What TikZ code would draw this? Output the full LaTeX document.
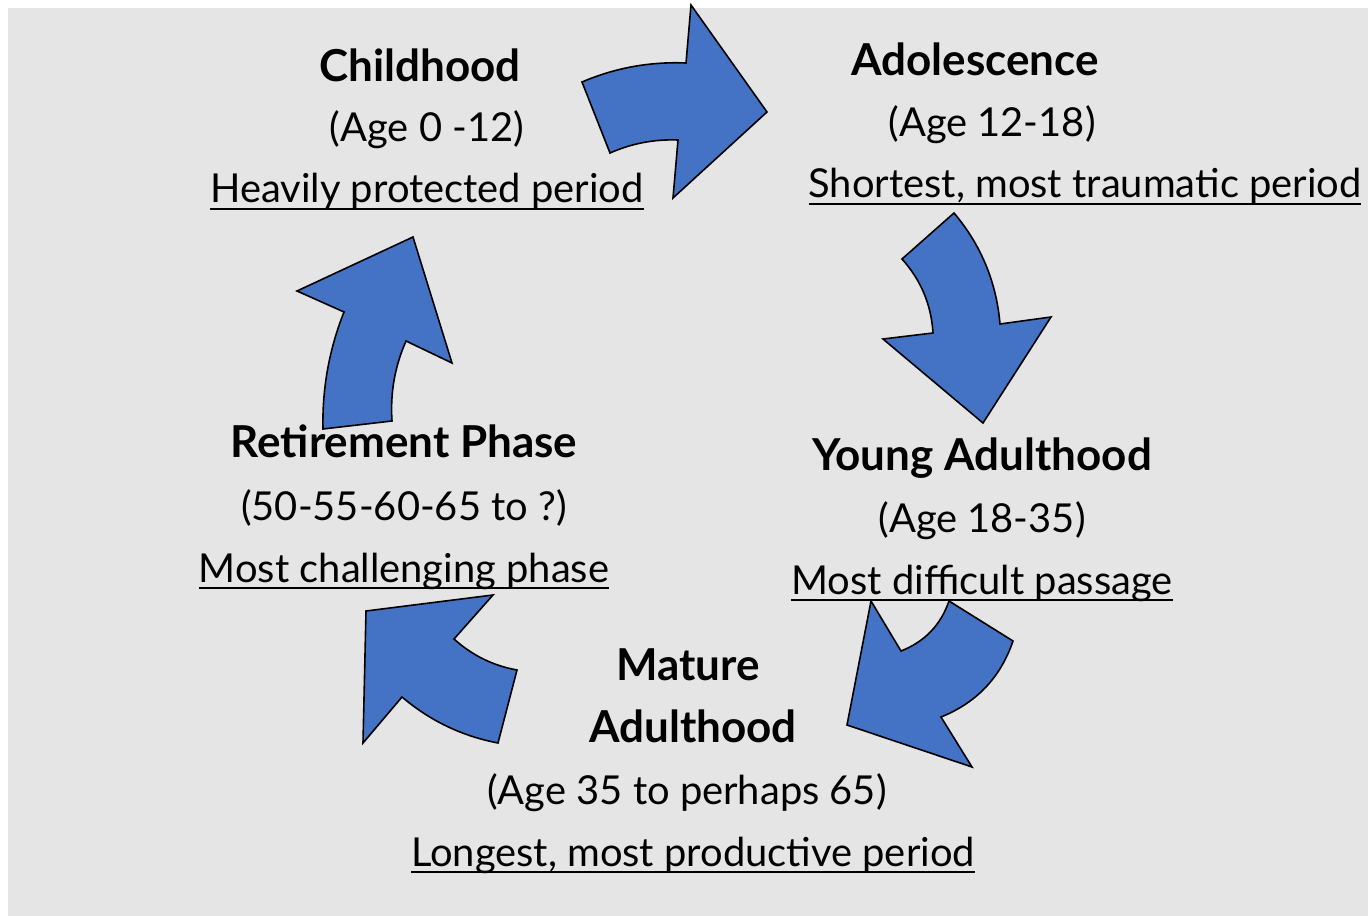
\documentclass[tikz,border=0pt]{standalone}
\usepackage{fontspec}
\setmainfont{Lato}
\usepackage{xcolor}

\definecolor{cycleblue}{HTML}{4472C4}
\definecolor{slidegray}{HTML}{E5E5E5}

% underline that cuts through the descenders
\newcommand{\uline}[1]{\setbox0\hbox{#1}\rlap{\rule[-5.6pt]{\wd0}{2pt}}\box0}

\begin{document}
\begin{tikzpicture}[x=0.75pt,y=-0.75pt,
  head/.style={font=\fontsize{33}{38}\selectfont\bfseries,anchor=base,inner sep=0pt},
  txt/.style={font=\fontsize{29.9}{34}\selectfont,anchor=base,inner sep=0pt},
  blockarrow/.style={fill=cycleblue,draw=black,line width=1.2pt,line join=miter}]

  \fill[white] (0,0) rectangle (1368,916);
  \fill[slidegray] (8,8) rectangle (1368,916);
  \useasboundingbox (0,0) rectangle (1368,916);

  % stages
  \node[head] (child)     at (420,82)  {Childhood};
  \node[txt]  (childage)  at (427,142) {(Age 0 -12)};
  \node[txt]  (childnote) at (427,203) {\uline{Heavily protected period}};

  \node[head] (adol)      at (975,76)  {Adolescence};
  \node[txt]  (adolage)   at (992,137) {(Age 12-18)};
  \node[txt]  (adolnote)  at (1085,198) {\uline{Shortest, most traumatic period}};

  \node[head] (young)     at (982,470) {Young Adulthood};
  \node[txt]  (youngage)  at (982,532) {(Age 18-35)};
  \node[txt]  (youngnote) at (982,594) {\uline{Most difficult passage}};

  \node[head] (mature)    at (688,680) {Mature};
  \node[head] (mature2)   at (693,742) {Adulthood};
  \node[txt]  (matureage) at (687,804) {(Age 35 to perhaps 65)};
  \node[txt]  (maturenote) at (693,866) {\uline{Longest, most productive period}};

  \node[head] (retire)    at (404,457) {Retirement Phase};
  \node[txt]  (retireage) at (404,520) {(50-55-60-65 to ?)};
  \node[txt]  (retirenote) at (404,582) {\uline{Most challenging phase}};

  % curved block arrows going round the cycle
  \draw[blockarrow] (582,82) .. controls (615.2,67.8) and (649.9,61.5) .. (686,63)
    -- (691,5) -- (767,112) -- (673,198) -- (678,140)
    .. controls (654.3,139.1) and (631.7,143.4) .. (610,153) -- cycle;
  \draw[blockarrow] (954,213) .. controls (981.1,245.1) and (996.4,282.1) .. (1000,324)
    -- (1051,317) -- (983,423) -- (883,339) -- (933,333)
    .. controls (931.3,304.7) and (920.9,280.1) .. (902,259) -- cycle;
  \draw[blockarrow] (1013,641) .. controls (1000.6,677.4) and (976.6,702.7) .. (941,717)
    -- (972,767) -- (847,725) -- (871,601) -- (901,651)
    .. controls (924.7,641.7) and (940.7,625.1) .. (949,601) -- cycle;
  \draw[blockarrow] (498,743) .. controls (461.9,736.1) and (429.9,720.7) .. (402,697)
    -- (363,743) -- (366,611) -- (493,595) -- (454,639)
    .. controls (472.1,655.3) and (493.1,665.7) .. (517,670) -- cycle;
  \draw[blockarrow] (323,429) .. controls (322.1,388.6) and (329.1,349.6) .. (344,312)
    -- (297,291) -- (413,237) -- (452,363) -- (406,341)
    .. controls (394.8,366.5) and (390.1,393.2) .. (392,421) -- cycle;
\end{tikzpicture}
\end{document}
